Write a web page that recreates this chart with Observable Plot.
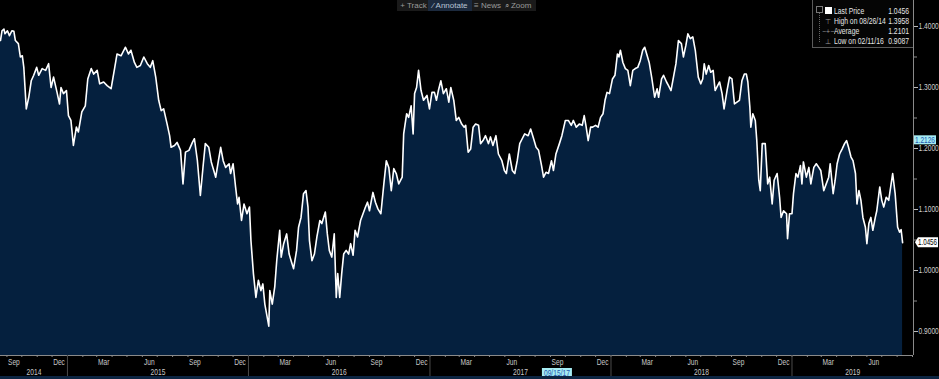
<!DOCTYPE html>
<html><head><meta charset="utf-8">
<script src="https://cdn.jsdelivr.net/npm/d3@7"></script>
<script src="https://cdn.jsdelivr.net/npm/@observablehq/plot@0.6"></script>
<style>
html,body{margin:0;padding:0;background:#000;}
#wrap{position:relative;width:939px;height:379px;overflow:hidden;background:#000;font-family:'Liberation Sans Narrow','Arial Narrow','Liberation Sans',sans-serif;}
#wrap svg{display:block;}
#toolbar{position:absolute;left:397px;top:0;height:11px;width:139px;background:#1a1a1a;font-size:8px;color:#9a9a9a;line-height:11px;white-space:nowrap;}
#toolbar span{position:absolute;top:0;height:11px;}
#legend{position:absolute;left:812px;top:0;width:100px;height:47px;background:#050505;border-left:1px solid #5a5a5a;border-bottom:1px solid #5a5a5a;font-size:8.5px;color:#e6e6e6;}
#legend span{position:absolute;line-height:10px;white-space:nowrap;}
#legend span.lab{transform:scaleX(0.8);transform-origin:left center;}
#legend span.val{transform:scaleX(0.8);transform-origin:right center;}
#strip{position:absolute;left:0;top:376px;width:939px;height:3px;background:#0c2542;}
</style></head>
<body><div id="wrap"></div>
<script>
// ---- data ----
const dates2014 = ["2014-08-19","2014-08-22","2014-08-26","2014-08-28","2014-09-02","2014-09-06","2014-09-11","2014-09-15","2014-09-18","2014-09-24","2014-09-28","2014-10-02","2014-10-05","2014-10-10","2014-10-15","2014-10-20","2014-10-25","2014-10-31","2014-11-04","2014-11-11","2014-11-18","2014-11-24","2014-11-29","2014-12-04","2014-12-11","2014-12-16","2014-12-19","2014-12-24","2014-12-30"];
const values2014 = [1.377,1.393,1.3958,1.388,1.393,1.385,1.393,1.392,1.377,1.372,1.350,1.352,1.333,1.265,1.284,1.311,1.320,1.333,1.320,1.331,1.328,1.339,1.300,1.317,1.292,1.273,1.300,1.290,1.295];
const dates2015 = ["2015-01-03","2015-01-08","2015-01-13","2015-01-19","2015-01-23","2015-01-30","2015-02-06","2015-02-11","2015-02-18","2015-02-23","2015-03-02","2015-03-07","2015-03-15","2015-03-22","2015-03-30","2015-04-06","2015-04-11","2015-04-19","2015-04-28","2015-05-04","2015-05-09","2015-05-16","2015-05-21","2015-05-28","2015-06-04","2015-06-11","2015-06-17","2015-06-22","2015-06-28","2015-07-04","2015-07-09","2015-07-14","2015-07-21","2015-07-26","2015-07-29","2015-08-05","2015-08-10","2015-08-17","2015-08-22","2015-08-27","2015-09-03","2015-09-10","2015-09-14","2015-09-20","2015-09-26","2015-10-02","2015-10-06","2015-10-13","2015-10-18","2015-10-27","2015-11-01","2015-11-06","2015-11-11","2015-11-16","2015-11-23","2015-11-26","2015-12-01","2015-12-06","2015-12-10","2015-12-13","2015-12-18","2015-12-23","2015-12-29"];
const values2015 = [1.254,1.246,1.205,1.235,1.227,1.260,1.270,1.314,1.331,1.322,1.328,1.306,1.309,1.303,1.298,1.331,1.355,1.352,1.366,1.355,1.361,1.341,1.333,1.336,1.350,1.339,1.333,1.344,1.317,1.279,1.262,1.265,1.240,1.221,1.202,1.205,1.210,1.197,1.142,1.194,1.197,1.210,1.216,1.180,1.123,1.175,1.208,1.202,1.178,1.153,1.178,1.202,1.180,1.169,1.175,1.159,1.175,1.137,1.109,1.120,1.082,1.109,1.093];
const dates2016 = ["2016-01-03","2016-01-06","2016-01-11","2016-01-16","2016-01-21","2016-01-26","2016-01-30","2016-02-03","2016-02-11","2016-02-13","2016-02-18","2016-02-23","2016-02-27","2016-03-04","2016-03-07","2016-03-12","2016-03-18","2016-03-23","2016-03-27","2016-04-01","2016-04-07","2016-04-11","2016-04-16","2016-04-21","2016-04-26","2016-04-30","2016-05-03","2016-05-08","2016-05-13","2016-05-18","2016-05-24","2016-05-28","2016-06-04","2016-06-08","2016-06-12","2016-06-17","2016-06-22","2016-06-26","2016-06-29","2016-07-03","2016-07-07","2016-07-11","2016-07-16","2016-07-21","2016-07-25","2016-07-30","2016-08-03","2016-08-08","2016-08-14","2016-08-19","2016-08-24","2016-08-28","2016-09-01","2016-09-08","2016-09-13","2016-09-18","2016-09-24","2016-09-30","2016-10-05","2016-10-10","2016-10-15","2016-10-20","2016-10-25","2016-10-30","2016-11-06","2016-11-09","2016-11-15","2016-11-19","2016-11-24","2016-11-28","2016-12-01","2016-12-05","2016-12-09","2016-12-14","2016-12-19","2016-12-26","2016-12-31"];
const values2016 = [1.104,1.049,0.995,0.956,0.984,0.967,0.978,0.945,0.9087,0.967,0.945,0.973,1.016,1.066,1.022,1.044,1.060,1.027,1.016,1.003,1.033,1.071,1.087,1.126,1.131,1.104,1.049,1.016,1.027,1.055,1.082,1.077,1.096,1.060,1.033,1.022,1.060,0.956,0.995,0.956,0.995,1.027,1.033,1.027,1.044,1.025,1.066,1.055,1.082,1.093,1.104,1.112,1.098,1.128,1.112,1.101,1.093,1.142,1.180,1.169,1.131,1.167,1.159,1.142,1.153,1.224,1.257,1.251,1.270,1.224,1.290,1.300,1.328,1.295,1.279,1.287,1.265];
const dates2017 = ["2017-01-05","2017-01-10","2017-01-14","2017-01-18","2017-01-23","2017-01-28","2017-02-03","2017-02-08","2017-02-12","2017-02-18","2017-02-23","2017-02-28","2017-03-06","2017-03-11","2017-03-14","2017-03-19","2017-03-24","2017-03-29","2017-04-03","2017-04-09","2017-04-13","2017-04-18","2017-04-23","2017-04-29","2017-05-03","2017-05-08","2017-05-14","2017-05-19","2017-05-26","2017-05-31","2017-06-04","2017-06-10","2017-06-16","2017-06-21","2017-06-26","2017-07-01","2017-07-06","2017-07-11","2017-07-18","2017-07-23","2017-07-29","2017-08-03","2017-08-08","2017-08-14","2017-08-18","2017-08-23","2017-08-28","2017-09-03","2017-09-07","2017-09-12","2017-09-19","2017-09-24","2017-10-01","2017-10-07","2017-10-13","2017-10-17","2017-10-23","2017-10-29","2017-11-04","2017-11-08","2017-11-12","2017-11-16","2017-11-21","2017-11-25","2017-12-01","2017-12-06","2017-12-11","2017-12-16","2017-12-20","2017-12-24","2017-12-29"];
const values2017 = [1.292,1.292,1.279,1.295,1.311,1.290,1.298,1.276,1.300,1.279,1.246,1.251,1.240,1.235,1.238,1.194,1.199,1.235,1.240,1.238,1.208,1.213,1.221,1.208,1.219,1.205,1.221,1.191,1.180,1.164,1.159,1.191,1.164,1.159,1.180,1.208,1.216,1.224,1.221,1.232,1.216,1.202,1.197,1.172,1.153,1.161,1.159,1.180,1.164,1.191,1.208,1.221,1.246,1.246,1.238,1.246,1.235,1.240,1.238,1.254,1.235,1.213,1.235,1.235,1.238,1.235,1.251,1.257,1.279,1.292,1.290];
const dates2018 = ["2018-01-04","2018-01-09","2018-01-14","2018-01-17","2018-01-20","2018-01-25","2018-01-30","2018-02-04","2018-02-09","2018-02-14","2018-02-19","2018-02-24","2018-03-01","2018-03-06","2018-03-10","2018-03-14","2018-03-19","2018-03-24","2018-03-30","2018-04-04","2018-04-07","2018-04-13","2018-04-17","2018-04-23","2018-04-27","2018-05-02","2018-05-07","2018-05-12","2018-05-17","2018-05-23","2018-05-27","2018-06-01","2018-06-05","2018-06-10","2018-06-15","2018-06-20","2018-06-26","2018-07-01","2018-07-05","2018-07-08","2018-07-12","2018-07-17","2018-07-21","2018-07-26","2018-07-30","2018-08-04","2018-08-08","2018-08-13","2018-08-17","2018-08-23","2018-08-28","2018-09-02","2018-09-07","2018-09-12","2018-09-17","2018-09-22","2018-09-27","2018-10-01","2018-10-04","2018-10-08","2018-10-10","2018-10-14","2018-10-19","2018-10-22","2018-10-26","2018-10-29","2018-11-02","2018-11-08","2018-11-13","2018-11-17","2018-11-22","2018-11-26","2018-12-02","2018-12-07","2018-12-10","2018-12-15","2018-12-21","2018-12-23","2018-12-27"];
const values2018 = [1.314,1.320,1.355,1.350,1.361,1.341,1.331,1.328,1.303,1.328,1.331,1.333,1.344,1.361,1.366,1.355,1.341,1.317,1.284,1.298,1.284,1.314,1.320,1.309,1.303,1.295,1.317,1.339,1.377,1.372,1.350,1.369,1.388,1.380,1.383,1.361,1.317,1.306,1.314,1.339,1.322,1.336,1.325,1.328,1.295,1.303,1.309,1.290,1.265,1.295,1.317,1.314,1.273,1.276,1.279,1.311,1.322,1.322,1.309,1.268,1.235,1.257,1.246,1.213,1.148,1.131,1.208,1.208,1.142,1.153,1.109,1.148,1.159,1.120,1.087,1.098,1.093,1.052,1.093];
const dates2019 = ["2019-01-01","2019-01-04","2019-01-09","2019-01-13","2019-01-18","2019-01-21","2019-01-24","2019-01-30","2019-02-04","2019-02-08","2019-02-14","2019-02-19","2019-02-24","2019-02-28","2019-03-06","2019-03-11","2019-03-16","2019-03-19","2019-03-25","2019-03-29","2019-04-02","2019-04-07","2019-04-12","2019-04-17","2019-04-21","2019-04-25","2019-04-30","2019-05-04","2019-05-09","2019-05-12","2019-05-16","2019-05-20","2019-05-24","2019-05-29","2019-06-01","2019-06-05","2019-06-09","2019-06-13","2019-06-18","2019-06-21","2019-06-27","2019-07-01","2019-07-05","2019-07-10","2019-07-15","2019-07-19","2019-07-23","2019-07-28","2019-08-02","2019-08-06","2019-08-09","2019-08-12"];
const values2019 = [1.093,1.126,1.159,1.153,1.172,1.142,1.178,1.153,1.169,1.142,1.169,1.175,1.169,1.164,1.131,1.142,1.153,1.175,1.126,1.148,1.175,1.191,1.199,1.208,1.213,1.202,1.186,1.180,1.159,1.109,1.131,1.115,1.087,1.071,1.044,1.077,1.087,1.066,1.087,1.098,1.137,1.115,1.104,1.120,1.115,1.137,1.159,1.126,1.071,1.063,1.067,1.0456];

const yTicks = [0.9, 1.0, 1.1, 1.2, 1.3, 1.4];
const yMinorTicks = [0.95, 1.05, 1.15, 1.25, 1.35];
const legendRows = [
  {label: "Last Price", value: "1.0456"},
  {label: "High on 08/26/14", value: "1.3958"},
  {label: "Average", value: "1.2101"},
  {label: "Low on 02/11/16", value: "0.9087"}
];
const lastPrice = 1.0456;
const markerValue = 1.2126;
const markerDate = "2017-09-15";
const markerDateLabel = "09/15/17";
const toolbarItems = ["+ Track", "\u2044 Annotate", "\u2261 News", "\u2315 Zoom"];

// ---- build ----
const allDates = [...dates2014, ...dates2015, ...dates2016, ...dates2017, ...dates2018, ...dates2019];
const allValues = [...values2014, ...values2015, ...values2016, ...values2017, ...values2018, ...values2019];
const data = allDates.map((d, i) => ({date: new Date(d + "T00:00:00Z"), value: allValues[i]}));

const xStart = new Date("2014-08-19T00:00:00Z");
const xEnd = new Date("2019-09-03T00:00:00Z");
const yMin = 0.8607, yMax = 1.4426;

const monthStarts = d3.utcMonth.range(new Date("2014-09-01T00:00:00Z"), xEnd);
const quarterMids = monthStarts.filter(d => d.getUTCMonth() % 3 === 2).map(d => d3.utcDay.offset(d, 14)).filter(d => d < xEnd);
const yearStarts = d3.utcYear.range(new Date("2015-01-01T00:00:00Z"), xEnd);
const yearMids = [2014, 2015, 2016, 2017, 2018, 2019].map(y => {
  const a = Math.max(+new Date(Date.UTC(y, 0, 1)), +xStart);
  const b = Math.min(+new Date(Date.UTC(y + 1, 0, 1)), +xEnd);
  return new Date((a + b) / 2);
});

const FONT = "'Liberation Sans Narrow','Arial Narrow','Liberation Sans',sans-serif";
const chart = Plot.plot({
  width: 939, height: 379,
  marginTop: 0, marginLeft: 0, marginRight: 26, marginBottom: 24,
  style: {background: "#000", color: "#c8c8c8", fontFamily: FONT, fontSize: "8.5px", overflow: "visible"},
  x: {type: "utc", domain: [xStart, xEnd], label: null},
  y: {domain: [yMin, yMax], label: null},
  marks: [
    Plot.areaY(data, {x: "date", y1: yMin, y2: "value", fill: "#05203e"}),
    Plot.lineY(data, {x: "date", y: "value", stroke: "#ffffff", strokeWidth: 1.6}),
    Plot.ruleY([yMin], {stroke: "#8a8a8a"}),
    Plot.ruleX([xEnd], {stroke: "#8a8a8a"}),
    Plot.axisY(yTicks, {anchor: "right", label: null, tickSize: 4, tickPadding: 1, tickFormat: d3.format(".4f"), stroke: "#bdbdbd", fill: "#cfcfcf", fontSize: 8.5}),
    Plot.axisY(yMinorTicks, {anchor: "right", label: null, tickSize: 3, tickFormat: () => "", stroke: "#8a8a8a"}),
    Plot.axisX(monthStarts, {anchor: "bottom", label: null, tickSize: 2, tickFormat: () => "", stroke: "#8a8a8a"}),
    Plot.axisX(quarterMids, {anchor: "bottom", label: null, tickSize: 0, tickPadding: 3, tickFormat: d3.utcFormat("%b"), fill: "#c8c8c8", fontSize: 8.5}),
    Plot.axisX(yearMids, {anchor: "bottom", label: null, tickSize: 0, tickPadding: 13, tickFormat: d3.utcFormat("%Y"), fill: "#c8c8c8", fontSize: 8.5}),
    Plot.axisX(yearStarts, {anchor: "bottom", label: null, tickSize: 21, tickFormat: () => "", stroke: "#4a4a4a"})
  ]
});

const wrap = document.getElementById("wrap");
wrap.appendChild(chart);

const sx = chart.scale("x"), sy = chart.scale("y");
const svg = d3.select(chart);

// narrow all axis texts (condensed look of the reference)
svg.selectAll("text").each(function() {
  const L = this.getComputedTextLength();
  if (L > 0) {
    this.setAttribute("textLength", (L * 0.78).toFixed(2));
    this.setAttribute("lengthAdjust", "spacingAndGlyphs");
  }
});

const axisX = sx.apply(xEnd);
// 1.2126 cyan marker on the axis
{
  const y = sy.apply(markerValue);
  const g = svg.append("g").attr("text-anchor", "start");
  g.append("rect").attr("x", axisX + 1).attr("y", y - 5).attr("width", 22).attr("height", 9).attr("fill", "#a6ecf3");
  g.append("text").attr("x", axisX + 2).attr("y", y + 3).attr("text-anchor", "start").attr("fill", "#1f56b0").attr("font-size", 8.5).attr("font-family", FONT)
    .attr("textLength", 20).attr("lengthAdjust", "spacingAndGlyphs").text(d3.format(".4f")(markerValue));
}
// last price marker
{
  const y = sy.apply(lastPrice);
  const g = svg.append("g").attr("text-anchor", "start");
  g.append("path").attr("d", `M${axisX + 2},${y} L${axisX + 5},${y - 5} L${axisX + 25},${y - 5} L${axisX + 25},${y + 5} L${axisX + 5},${y + 5} Z`).attr("fill", "#ffffff");
  g.append("text").attr("x", axisX + 5).attr("y", y + 3).attr("text-anchor", "start").attr("fill", "#000000").attr("font-size", 8.5).attr("font-family", FONT)
    .attr("textLength", 19).attr("lengthAdjust", "spacingAndGlyphs").text(d3.format(".4f")(lastPrice));
}
// date marker on the x axis
{
  const x = sx.apply(new Date(markerDate + "T00:00:00Z"));
  const yb = sy.apply(yMin);
  const g = svg.append("g");
  g.append("rect").attr("x", x - 15).attr("y", yb + 13).attr("width", 30).attr("height", 10).attr("fill", "#a6ecf3");
  g.append("text").attr("x", x).attr("y", yb + 21).attr("text-anchor", "middle").attr("fill", "#1f56b0").attr("font-size", 8.5).attr("font-family", FONT)
    .attr("textLength", 26).attr("lengthAdjust", "spacingAndGlyphs").text(markerDateLabel);
}

// toolbar
const tb = document.createElement("div");
tb.id = "toolbar";
const tbPos = [3, 31, 77, 106];
const tbW = [27, 44, 27, 30];
toolbarItems.forEach((t, i) => {
  const s = document.createElement("span");
  s.textContent = t;
  s.style.left = tbPos[i] + "px";
  s.style.width = tbW[i] + "px";
  s.style.textAlign = "center";
  if (i === 1) { s.style.background = "#1c2a3e"; s.style.color = "#b8c4d4"; }
  tb.appendChild(s);
});
wrap.appendChild(tb);

// legend
const lg = document.createElement("div");
lg.id = "legend";
const icons = ["", "\u22A4", "\u2212+\u2212", "\u22A5"];
legendRows.forEach((r, i) => {
  const top = 7 + i * 10;
  const ic = document.createElement("span");
  if (i === 0) {
    ic.style.cssText = `left:12px;top:${top}px;width:7px;height:7px;background:#fff;`;
  } else {
    ic.textContent = icons[i];
    ic.style.cssText = `left:${i === 2 ? 9 : 12}px;top:${top}px;color:#9a9a9a;font-size:7px;`;
  }
  lg.appendChild(ic);
  const lab = document.createElement("span");
  lab.className = "lab";
  lab.textContent = r.label;
  lab.style.left = "21px";
  lab.style.top = (top - 1) + "px";
  lg.appendChild(lab);
  const val = document.createElement("span");
  val.className = "val";
  val.textContent = r.value;
  val.style.right = "4px";
  val.style.top = (top - 1) + "px";
  lg.appendChild(val);
});
const box = document.createElement("span");
box.style.cssText = "left:3px;top:6px;width:5px;height:5px;border:1px solid #777;";
lg.appendChild(box);
const tree = document.createElement("span");
tree.style.cssText = "left:6px;top:13px;width:0;height:29px;border-left:1px dotted #666;";
lg.appendChild(tree);
wrap.appendChild(lg);

const strip = document.createElement("div");
strip.id = "strip";
wrap.appendChild(strip);
</script>
</body></html>
